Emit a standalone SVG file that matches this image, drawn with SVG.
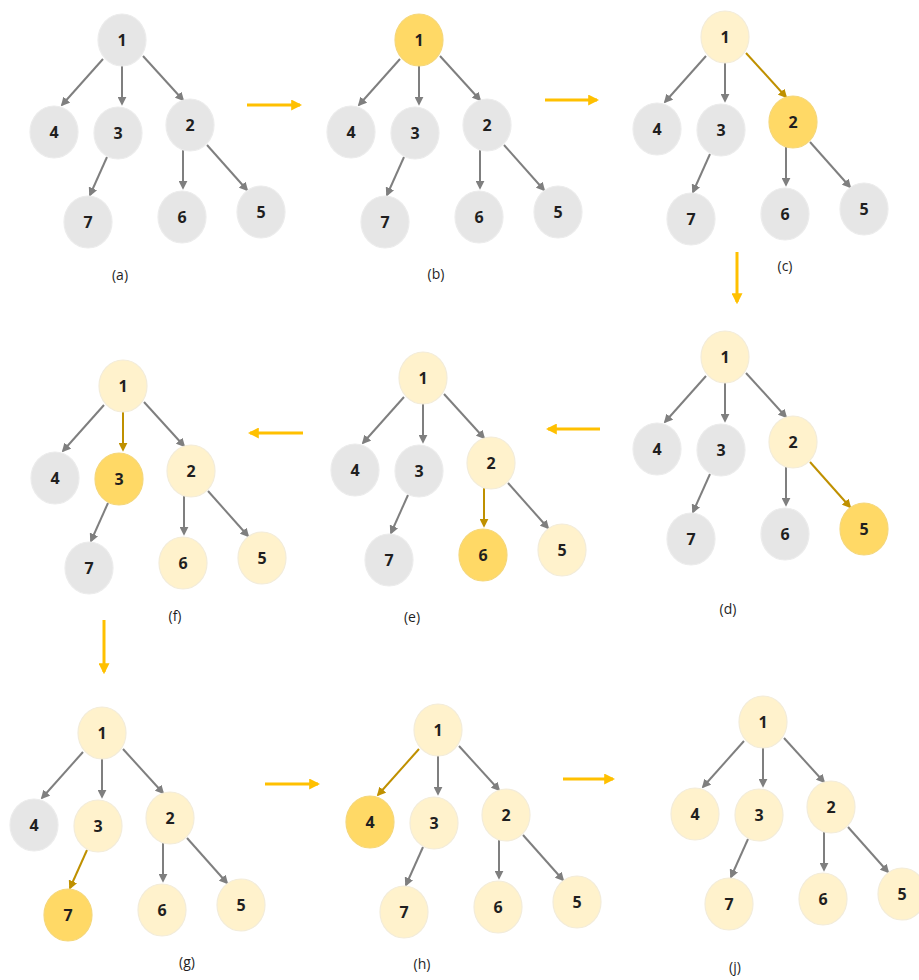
<svg xmlns="http://www.w3.org/2000/svg" width="919" height="980" viewBox="0 0 919 980">
  <style>
    .bg { fill: #ffffff; }
    .node ellipse { stroke-width: 1.2; }
    .idle ellipse { fill: #e6e6e6; stroke: #ececec; }
    .seen ellipse { fill: #fff2cc; stroke: #f3ecd9; }
    .cur ellipse { fill: #ffd966; stroke: #f5d77a; }
    .node text { font-family: "Open Sans", "Liberation Sans", sans-serif; font-weight: bold; font-size: 16px; fill: #1f1f1f; text-anchor: middle; dominant-baseline: central; }
    .edge { stroke: #7f7f7f; stroke-width: 2; fill: none; marker-end: url(#head-gray); }
    .edge.hot { stroke: #bf9000; marker-end: url(#head-gold); }
    .step { stroke: #ffc000; stroke-width: 3; fill: none; marker-end: url(#head-step); }
    .caption { font-family: "Open Sans", "Liberation Sans", sans-serif; font-size: 14px; fill: #1f1f1f; text-anchor: middle; }
  </style>
  <defs>
    <marker id="head-gray" viewBox="0 0 10 10" refX="8" refY="5" markerWidth="9" markerHeight="9" markerUnits="userSpaceOnUse" orient="auto">
      <path d="M0,0 L10,5 L0,10 z" fill="#7f7f7f"/>
    </marker>
    <marker id="head-gold" viewBox="0 0 10 10" refX="8" refY="5" markerWidth="9" markerHeight="9" markerUnits="userSpaceOnUse" orient="auto">
      <path d="M0,0 L10,5 L0,10 z" fill="#bf9000"/>
    </marker>
    <marker id="head-step" viewBox="0 0 10 10" refX="8" refY="5" markerWidth="11" markerHeight="11" markerUnits="userSpaceOnUse" orient="auto">
      <path d="M0,0 L10,5 L0,10 z" fill="#ffc000"/>
    </marker>
  </defs>
  <rect class="bg" x="0" y="0" width="919" height="980"/>

  <!-- (a) initial tree -->
  <g id="panel-a">
    <g class="connectors">
      <line class="edge" x1="103" y1="59" x2="62" y2="105"/>
      <line class="edge" x1="122" y1="63" x2="122" y2="104"/>
      <line class="edge" x1="143" y1="56" x2="183" y2="100"/>
      <line class="edge" x1="107" y1="157" x2="90" y2="195"/>
      <line class="edge" x1="183" y1="150" x2="183" y2="188"/>
      <line class="edge" x1="207" y1="145" x2="247" y2="190"/>
    </g>
    <g id="a-1" class="node idle"><ellipse cx="122" cy="40" rx="24" ry="26"/><text x="122" y="40">1</text></g>
    <g id="a-4" class="node idle"><ellipse cx="54" cy="132" rx="24" ry="26"/><text x="54" y="132">4</text></g>
    <g id="a-3" class="node idle"><ellipse cx="118" cy="133" rx="24" ry="26"/><text x="118" y="133">3</text></g>
    <g id="a-2" class="node idle"><ellipse cx="190" cy="125" rx="24" ry="26"/><text x="190" y="125">2</text></g>
    <g id="a-7" class="node idle"><ellipse cx="88" cy="222" rx="24" ry="26"/><text x="88" y="222">7</text></g>
    <g id="a-6" class="node idle"><ellipse cx="182" cy="217" rx="24" ry="26"/><text x="182" y="217">6</text></g>
    <g id="a-5" class="node idle"><ellipse cx="261" cy="212" rx="24" ry="26"/><text x="261" y="212">5</text></g>
    <text class="caption" x="120" y="280">(a)</text>
  </g>

  <!-- (b) visit 1 -->
  <g id="panel-b">
    <g class="connectors" transform="translate(297,0)">
      <line class="edge" x1="103" y1="59" x2="62" y2="105"/>
      <line class="edge" x1="122" y1="63" x2="122" y2="104"/>
      <line class="edge" x1="143" y1="56" x2="183" y2="100"/>
      <line class="edge" x1="107" y1="157" x2="90" y2="195"/>
      <line class="edge" x1="183" y1="150" x2="183" y2="188"/>
      <line class="edge" x1="207" y1="145" x2="247" y2="190"/>
    </g>
    <g transform="translate(297,0)">
      <g id="b-1" class="node cur"><ellipse cx="122" cy="40" rx="24" ry="26"/><text x="122" y="40">1</text></g>
      <g id="b-4" class="node idle"><ellipse cx="54" cy="132" rx="24" ry="26"/><text x="54" y="132">4</text></g>
      <g id="b-3" class="node idle"><ellipse cx="118" cy="133" rx="24" ry="26"/><text x="118" y="133">3</text></g>
      <g id="b-2" class="node idle"><ellipse cx="190" cy="125" rx="24" ry="26"/><text x="190" y="125">2</text></g>
      <g id="b-7" class="node idle"><ellipse cx="88" cy="222" rx="24" ry="26"/><text x="88" y="222">7</text></g>
      <g id="b-6" class="node idle"><ellipse cx="182" cy="217" rx="24" ry="26"/><text x="182" y="217">6</text></g>
      <g id="b-5" class="node idle"><ellipse cx="261" cy="212" rx="24" ry="26"/><text x="261" y="212">5</text></g>
    </g>
    <text class="caption" x="436" y="279">(b)</text>
  </g>

  <!-- (c) visit 2 -->
  <g id="panel-c">
    <g class="connectors" transform="translate(603,-3)">
      <line class="edge" x1="103" y1="59" x2="62" y2="105"/>
      <line class="edge" x1="122" y1="63" x2="122" y2="104"/>
      <line class="edge hot" x1="143" y1="56" x2="183" y2="100"/>
      <line class="edge" x1="107" y1="157" x2="90" y2="195"/>
      <line class="edge" x1="183" y1="150" x2="183" y2="188"/>
      <line class="edge" x1="207" y1="145" x2="247" y2="190"/>
    </g>
    <g transform="translate(603,-3)">
      <g id="c-1" class="node seen"><ellipse cx="122" cy="40" rx="24" ry="26"/><text x="122" y="40">1</text></g>
      <g id="c-4" class="node idle"><ellipse cx="54" cy="132" rx="24" ry="26"/><text x="54" y="132">4</text></g>
      <g id="c-3" class="node idle"><ellipse cx="118" cy="133" rx="24" ry="26"/><text x="118" y="133">3</text></g>
      <g id="c-2" class="node cur"><ellipse cx="190" cy="125" rx="24" ry="26"/><text x="190" y="125">2</text></g>
      <g id="c-7" class="node idle"><ellipse cx="88" cy="222" rx="24" ry="26"/><text x="88" y="222">7</text></g>
      <g id="c-6" class="node idle"><ellipse cx="182" cy="217" rx="24" ry="26"/><text x="182" y="217">6</text></g>
      <g id="c-5" class="node idle"><ellipse cx="261" cy="212" rx="24" ry="26"/><text x="261" y="212">5</text></g>
    </g>
    <text class="caption" x="785" y="271">(c)</text>
  </g>

  <!-- (d) visit 5 -->
  <g id="panel-d">
    <g class="connectors" transform="translate(603,317)">
      <line class="edge" x1="103" y1="59" x2="62" y2="105"/>
      <line class="edge" x1="122" y1="63" x2="122" y2="104"/>
      <line class="edge" x1="143" y1="56" x2="183" y2="100"/>
      <line class="edge" x1="107" y1="157" x2="90" y2="195"/>
      <line class="edge" x1="183" y1="150" x2="183" y2="188"/>
      <line class="edge hot" x1="207" y1="145" x2="247" y2="190"/>
    </g>
    <g transform="translate(603,317)">
      <g id="d-1" class="node seen"><ellipse cx="122" cy="40" rx="24" ry="26"/><text x="122" y="40">1</text></g>
      <g id="d-4" class="node idle"><ellipse cx="54" cy="132" rx="24" ry="26"/><text x="54" y="132">4</text></g>
      <g id="d-3" class="node idle"><ellipse cx="118" cy="133" rx="24" ry="26"/><text x="118" y="133">3</text></g>
      <g id="d-2" class="node seen"><ellipse cx="190" cy="125" rx="24" ry="26"/><text x="190" y="125">2</text></g>
      <g id="d-7" class="node idle"><ellipse cx="88" cy="222" rx="24" ry="26"/><text x="88" y="222">7</text></g>
      <g id="d-6" class="node idle"><ellipse cx="182" cy="217" rx="24" ry="26"/><text x="182" y="217">6</text></g>
      <g id="d-5" class="node cur"><ellipse cx="261" cy="212" rx="24" ry="26"/><text x="261" y="212">5</text></g>
    </g>
    <text class="caption" x="728" y="614">(d)</text>
  </g>

  <!-- (e) visit 6 -->
  <g id="panel-e">
    <g class="connectors" transform="translate(301,338)">
      <line class="edge" x1="103" y1="59" x2="62" y2="105"/>
      <line class="edge" x1="122" y1="63" x2="122" y2="104"/>
      <line class="edge" x1="143" y1="56" x2="183" y2="100"/>
      <line class="edge" x1="107" y1="157" x2="90" y2="195"/>
      <line class="edge hot" x1="183" y1="150" x2="183" y2="188"/>
      <line class="edge" x1="207" y1="145" x2="247" y2="190"/>
    </g>
    <g transform="translate(301,338)">
      <g id="e-1" class="node seen"><ellipse cx="122" cy="40" rx="24" ry="26"/><text x="122" y="40">1</text></g>
      <g id="e-4" class="node idle"><ellipse cx="54" cy="132" rx="24" ry="26"/><text x="54" y="132">4</text></g>
      <g id="e-3" class="node idle"><ellipse cx="118" cy="133" rx="24" ry="26"/><text x="118" y="133">3</text></g>
      <g id="e-2" class="node seen"><ellipse cx="190" cy="125" rx="24" ry="26"/><text x="190" y="125">2</text></g>
      <g id="e-7" class="node idle"><ellipse cx="88" cy="222" rx="24" ry="26"/><text x="88" y="222">7</text></g>
      <g id="e-6" class="node cur"><ellipse cx="182" cy="217" rx="24" ry="26"/><text x="182" y="217">6</text></g>
      <g id="e-5" class="node seen"><ellipse cx="261" cy="212" rx="24" ry="26"/><text x="261" y="212">5</text></g>
    </g>
    <text class="caption" x="412" y="622">(e)</text>
  </g>

  <!-- (f) visit 3 -->
  <g id="panel-f">
    <g class="connectors" transform="translate(1,346)">
      <line class="edge" x1="103" y1="59" x2="62" y2="105"/>
      <line class="edge hot" x1="122" y1="63" x2="122" y2="104"/>
      <line class="edge" x1="143" y1="56" x2="183" y2="100"/>
      <line class="edge" x1="107" y1="157" x2="90" y2="195"/>
      <line class="edge" x1="183" y1="150" x2="183" y2="188"/>
      <line class="edge" x1="207" y1="145" x2="247" y2="190"/>
    </g>
    <g transform="translate(1,346)">
      <g id="f-1" class="node seen"><ellipse cx="122" cy="40" rx="24" ry="26"/><text x="122" y="40">1</text></g>
      <g id="f-4" class="node idle"><ellipse cx="54" cy="132" rx="24" ry="26"/><text x="54" y="132">4</text></g>
      <g id="f-3" class="node cur"><ellipse cx="118" cy="133" rx="24" ry="26"/><text x="118" y="133">3</text></g>
      <g id="f-2" class="node seen"><ellipse cx="190" cy="125" rx="24" ry="26"/><text x="190" y="125">2</text></g>
      <g id="f-7" class="node idle"><ellipse cx="88" cy="222" rx="24" ry="26"/><text x="88" y="222">7</text></g>
      <g id="f-6" class="node seen"><ellipse cx="182" cy="217" rx="24" ry="26"/><text x="182" y="217">6</text></g>
      <g id="f-5" class="node seen"><ellipse cx="261" cy="212" rx="24" ry="26"/><text x="261" y="212">5</text></g>
    </g>
    <text class="caption" x="175" y="621">(f)</text>
  </g>

  <!-- (g) visit 7 -->
  <g id="panel-g">
    <g class="connectors" transform="translate(-20,693)">
      <line class="edge" x1="103" y1="59" x2="62" y2="105"/>
      <line class="edge" x1="122" y1="63" x2="122" y2="104"/>
      <line class="edge" x1="143" y1="56" x2="183" y2="100"/>
      <line class="edge hot" x1="107" y1="157" x2="90" y2="195"/>
      <line class="edge" x1="183" y1="150" x2="183" y2="188"/>
      <line class="edge" x1="207" y1="145" x2="247" y2="190"/>
    </g>
    <g transform="translate(-20,693)">
      <g id="g-1" class="node seen"><ellipse cx="122" cy="40" rx="24" ry="26"/><text x="122" y="40">1</text></g>
      <g id="g-4" class="node idle"><ellipse cx="54" cy="132" rx="24" ry="26"/><text x="54" y="132">4</text></g>
      <g id="g-3" class="node seen"><ellipse cx="118" cy="133" rx="24" ry="26"/><text x="118" y="133">3</text></g>
      <g id="g-2" class="node seen"><ellipse cx="190" cy="125" rx="24" ry="26"/><text x="190" y="125">2</text></g>
      <g id="g-7" class="node cur"><ellipse cx="88" cy="222" rx="24" ry="26"/><text x="88" y="222">7</text></g>
      <g id="g-6" class="node seen"><ellipse cx="182" cy="217" rx="24" ry="26"/><text x="182" y="217">6</text></g>
      <g id="g-5" class="node seen"><ellipse cx="261" cy="212" rx="24" ry="26"/><text x="261" y="212">5</text></g>
    </g>
    <text class="caption" x="187" y="967">(g)</text>
  </g>

  <!-- (h) visit 4 -->
  <g id="panel-h">
    <g class="connectors" transform="translate(316,690)">
      <line class="edge hot" x1="103" y1="59" x2="62" y2="105"/>
      <line class="edge" x1="122" y1="63" x2="122" y2="104"/>
      <line class="edge" x1="143" y1="56" x2="183" y2="100"/>
      <line class="edge" x1="107" y1="157" x2="90" y2="195"/>
      <line class="edge" x1="183" y1="150" x2="183" y2="188"/>
      <line class="edge" x1="207" y1="145" x2="247" y2="190"/>
    </g>
    <g transform="translate(316,690)">
      <g id="h-1" class="node seen"><ellipse cx="122" cy="40" rx="24" ry="26"/><text x="122" y="40">1</text></g>
      <g id="h-4" class="node cur"><ellipse cx="54" cy="132" rx="24" ry="26"/><text x="54" y="132">4</text></g>
      <g id="h-3" class="node seen"><ellipse cx="118" cy="133" rx="24" ry="26"/><text x="118" y="133">3</text></g>
      <g id="h-2" class="node seen"><ellipse cx="190" cy="125" rx="24" ry="26"/><text x="190" y="125">2</text></g>
      <g id="h-7" class="node seen"><ellipse cx="88" cy="222" rx="24" ry="26"/><text x="88" y="222">7</text></g>
      <g id="h-6" class="node seen"><ellipse cx="182" cy="217" rx="24" ry="26"/><text x="182" y="217">6</text></g>
      <g id="h-5" class="node seen"><ellipse cx="261" cy="212" rx="24" ry="26"/><text x="261" y="212">5</text></g>
    </g>
    <text class="caption" x="422" y="969">(h)</text>
  </g>

  <!-- (j) all visited -->
  <g id="panel-j">
    <g class="connectors" transform="translate(641,682)">
      <line class="edge" x1="103" y1="59" x2="62" y2="105"/>
      <line class="edge" x1="122" y1="63" x2="122" y2="104"/>
      <line class="edge" x1="143" y1="56" x2="183" y2="100"/>
      <line class="edge" x1="107" y1="157" x2="90" y2="195"/>
      <line class="edge" x1="183" y1="150" x2="183" y2="188"/>
      <line class="edge" x1="207" y1="145" x2="247" y2="190"/>
    </g>
    <g transform="translate(641,682)">
      <g id="j-1" class="node seen"><ellipse cx="122" cy="40" rx="24" ry="26"/><text x="122" y="40">1</text></g>
      <g id="j-4" class="node seen"><ellipse cx="54" cy="132" rx="24" ry="26"/><text x="54" y="132">4</text></g>
      <g id="j-3" class="node seen"><ellipse cx="118" cy="133" rx="24" ry="26"/><text x="118" y="133">3</text></g>
      <g id="j-2" class="node seen"><ellipse cx="190" cy="125" rx="24" ry="26"/><text x="190" y="125">2</text></g>
      <g id="j-7" class="node seen"><ellipse cx="88" cy="222" rx="24" ry="26"/><text x="88" y="222">7</text></g>
      <g id="j-6" class="node seen"><ellipse cx="182" cy="217" rx="24" ry="26"/><text x="182" y="217">6</text></g>
      <g id="j-5" class="node seen"><ellipse cx="261" cy="212" rx="24" ry="26"/><text x="261" y="212">5</text></g>
    </g>
    <text class="caption" x="735" y="972">(j)</text>
  </g>

  <!-- step arrows between stages -->
  <g id="steps">
    <line class="step" x1="247" y1="105" x2="300" y2="105"/>
    <line class="step" x1="545" y1="100" x2="597" y2="100"/>
    <line class="step" x1="737" y1="252" x2="737" y2="302"/>
    <line class="step" x1="600" y1="429" x2="548" y2="429"/>
    <line class="step" x1="303" y1="433" x2="250" y2="433"/>
    <line class="step" x1="104" y1="620" x2="104" y2="672"/>
    <line class="step" x1="265" y1="784" x2="318" y2="784"/>
    <line class="step" x1="563" y1="779" x2="613" y2="779"/>
  </g>
</svg>
